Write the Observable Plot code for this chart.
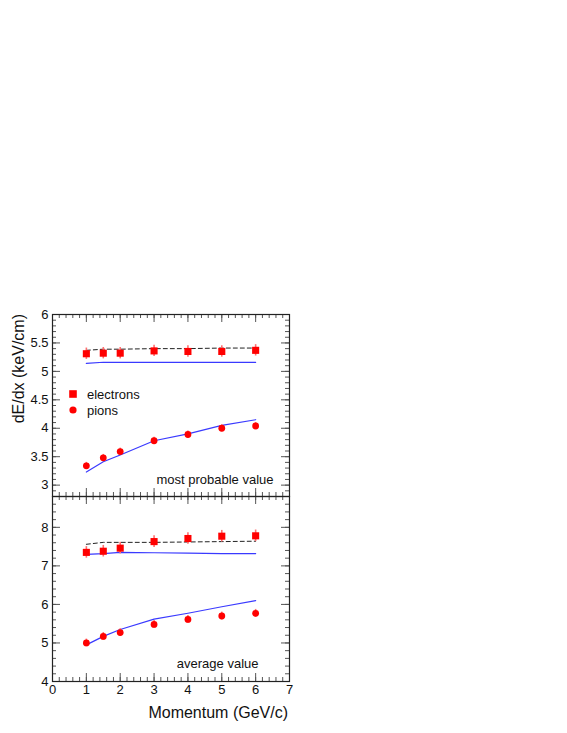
<!DOCTYPE html>
<html>
<head>
<meta charset="utf-8">
<script src="https://cdn.jsdelivr.net/npm/d3@7"></script>
<script src="https://cdn.jsdelivr.net/npm/@observablehq/plot@0.6"></script>
<style>
  html, body { margin: 0; padding: 0; background: white; }
  #wrap { position: relative; width: 567px; height: 733px; overflow: hidden; }
  #wrap > svg, #wrap > div { position: absolute; left: 0; }
</style>
</head>
<body>
<div id="wrap"></div>
<script>
// ---------- data ----------
const momentum = [1, 1.5, 2, 3, 4, 5, 6];

// most probable value panel
const mpvElectrons       = [5.31, 5.32, 5.32, 5.36, 5.35, 5.35, 5.37];
const mpvElectronsErr    = [0.10, 0.10, 0.10, 0.10, 0.10, 0.10, 0.10];
const mpvPions           = [3.34, 3.48, 3.59, 3.78, 3.89, 4.00, 4.04];
const mpvPionsErr        = [0.06, 0.06, 0.06, 0.06, 0.06, 0.06, 0.06];
const mpvElectronsDashed = [5.37, 5.39, 5.39, 5.40, 5.40, 5.41, 5.41];
const mpvElectronsModel  = [5.14, 5.16, 5.16, 5.16, 5.16, 5.16, 5.16];
const mpvPionsModel      = [3.23, 3.41, 3.53, 3.78, 3.90, 4.05, 4.15];

// average value panel
const avgElectrons       = [7.35, 7.38, 7.46, 7.63, 7.71, 7.77, 7.78];
const avgElectronsErr    = [0.15, 0.15, 0.15, 0.15, 0.15, 0.15, 0.15];
const avgPions           = [5.00, 5.17, 5.27, 5.48, 5.61, 5.70, 5.77];
const avgPionsErr        = [0.10, 0.10, 0.10, 0.10, 0.10, 0.10, 0.10];
const avgElectronsDashed = [7.56, 7.61, 7.61, 7.61, 7.62, 7.63, 7.64];
const avgElectronsModel  = [7.30, 7.32, 7.35, 7.34, 7.33, 7.32, 7.32];
const avgPionsModel      = [4.95, 5.17, 5.35, 5.62, 5.77, 5.94, 6.10];

// ticks / labels
const xMajorTicks = [0, 1, 2, 3, 4, 5, 6, 7];
const topYMajorTicks = [3, 3.5, 4, 4.5, 5, 5.5, 6];
const botYMajorTicks = [4, 5, 6, 7, 8];
const legendLabels = ["electrons", "pions"];
const topNote = "most probable value";
const botNote = "average value";
const xTitle = "Momentum (GeV/c)";
const yTitle = "dE/dx (keV/cm)";

// ---------- helpers ----------
const FONT = "'Liberation Sans', Arial, Helvetica, sans-serif";
const RED = "#ff0000";
const ERR = "#ff7070";
const BLUE = "#3a3aff";

const rows = (vals, errs) => momentum.map((p, i) => ({p, v: vals[i], e: errs ? errs[i] : 0}));

function frameTicks(xMaj, xMin, yMaj, yMin, iw, ih) {
  const M = 8, m = 4;
  const st = {stroke: "#555", strokeWidth: 1};
  return [
    Plot.ruleX(xMaj, {...st, insetTop: ih - M}),
    Plot.ruleX(xMaj, {...st, insetBottom: ih - M}),
    Plot.ruleX(xMin, {...st, insetTop: ih - m}),
    Plot.ruleX(xMin, {...st, insetBottom: ih - m}),
    Plot.ruleY(yMaj, {...st, insetRight: iw - M}),
    Plot.ruleY(yMaj, {...st, insetLeft: iw - M}),
    Plot.ruleY(yMin, {...st, insetRight: iw - m}),
    Plot.ruleY(yMin, {...st, insetLeft: iw - m})
  ];
}

function dataMarks(el, elErr, pi, piErr, elDash, elModel, piModel) {
  const E = rows(el, elErr), P = rows(pi, piErr);
  return [
    Plot.line(rows(elDash), {x: "p", y: "v", stroke: "#222", strokeWidth: 1, strokeDasharray: "4,3"}),
    Plot.line(rows(elModel), {x: "p", y: "v", stroke: BLUE, strokeWidth: 1.2}),
    Plot.line(rows(piModel), {x: "p", y: "v", stroke: BLUE, strokeWidth: 1.2}),
    Plot.ruleX(E, {x: "p", y1: d => d.v - d.e, y2: d => d.v + d.e, stroke: ERR, strokeWidth: 1.6}),
    Plot.ruleX(P, {x: "p", y1: d => d.v - d.e, y2: d => d.v + d.e, stroke: ERR, strokeWidth: 1.6}),
    Plot.dot(E, {x: "p", y: "v", symbol: "square", r: 4, fill: RED, stroke: "none"}),
    Plot.dot(P, {x: "p", y: "v", symbol: "circle", r: 3.4, fill: RED, stroke: "none"})
  ];
}

const W = 567;
const mL = 52, mR = 567 - 289;
const iw = W - mL - mR;
const xMinor = d3.range(0, 7.0001, 0.2).map(v => +v.toFixed(2));
const baseStyle = {fontFamily: FONT, fontSize: "13px", background: "transparent", overflow: "visible", color: "#111"};

// ---------- top panel ----------
const topH = 496, topMT = 314, topMB = 0;
const topIH = topH - topMT - topMB;
const topYMinor = d3.range(2.8, 6.0001, 0.1).map(v => +v.toFixed(2));
const topPlot = Plot.plot({
  width: W, height: topH,
  marginTop: topMT, marginBottom: topMB, marginLeft: mL, marginRight: mR,
  x: {domain: [0, 7], axis: null},
  y: {domain: [2.8, 6]},
  style: baseStyle,
  marks: [
    ...frameTicks(xMajorTicks, xMinor, topYMajorTicks, topYMinor, iw, topIH),
    Plot.axisY(topYMajorTicks, {tickSize: 0, tickPadding: 4, tickFormat: d => String(d), label: null, fontSize: 13}),
    ...dataMarks(mpvElectrons, mpvElectronsErr, mpvPions, mpvPionsErr, mpvElectronsDashed, mpvElectronsModel, mpvPionsModel),
    Plot.text([topNote], {text: d => d, frameAnchor: "bottom-right", dx: -16, dy: -13, textAnchor: "end", fontSize: 13, fill: "#111"}),
    Plot.frame({stroke: "#222", strokeWidth: 1.2})
  ]
});
topPlot.style.top = "0px";

// ---------- bottom panel ----------
const botTop = 496;
const botH = 733 - botTop, botMT = 0, botMB = 733 - 681;
const botIH = botH - botMT - botMB;
const botYMinor = d3.range(4, 8.8001, 0.2).map(v => +v.toFixed(2));
const botPlot = Plot.plot({
  width: W, height: botH,
  marginTop: botMT, marginBottom: botMB, marginLeft: mL, marginRight: mR,
  x: {domain: [0, 7]},
  y: {domain: [4, 8.8]},
  style: baseStyle,
  marks: [
    ...frameTicks(xMajorTicks, xMinor, botYMajorTicks, botYMinor, iw, botIH),
    Plot.axisY(botYMajorTicks, {tickSize: 0, tickPadding: 4, tickFormat: d => String(d), label: null, fontSize: 13}),
    Plot.axisX(xMajorTicks, {tickSize: 0, tickPadding: 3, tickFormat: d => String(d), label: null, fontSize: 13}),
    ...dataMarks(avgElectrons, avgElectronsErr, avgPions, avgPionsErr, avgElectronsDashed, avgElectronsModel, avgPionsModel),
    Plot.text([botNote], {text: d => d, frameAnchor: "bottom-right", dx: -31, dy: -14, textAnchor: "end", fontSize: 13, fill: "#111"}),
    Plot.frame({stroke: "#222", strokeWidth: 1.2})
  ]
});
botPlot.style.top = botTop + "px";

// ---------- overlay: titles & legend ----------
const ov = d3.create("svg")
  .attr("width", W).attr("height", 733)
  .style("top", "0px").style("pointer-events", "none")
  .style("font-family", FONT);

ov.append("text")
  .attr("x", 288).attr("y", 718)
  .attr("text-anchor", "end").attr("font-size", 16).attr("fill", "#111")
  .text(xTitle);

ov.append("text")
  .attr("transform", "translate(24,314) rotate(-90)")
  .attr("text-anchor", "end").attr("font-size", 16).attr("fill", "#111")
  .text(yTitle);

const leg = ov.append("g");
leg.append("rect").attr("x", 73 - 3.8).attr("y", 394 - 3.8).attr("width", 7.6).attr("height", 7.6).attr("fill", RED);
leg.append("circle").attr("cx", 73).attr("cy", 410).attr("r", 3.6).attr("fill", RED);
leg.selectAll("text.lab").data(legendLabels).join("text")
  .attr("x", 87).attr("y", (d, i) => 398.5 + i * 16)
  .attr("font-size", 13).attr("fill", "#111")
  .text(d => d);

const wrap = document.getElementById("wrap");
wrap.appendChild(topPlot);
wrap.appendChild(botPlot);
wrap.appendChild(ov.node());
</script>
</body>
</html>
